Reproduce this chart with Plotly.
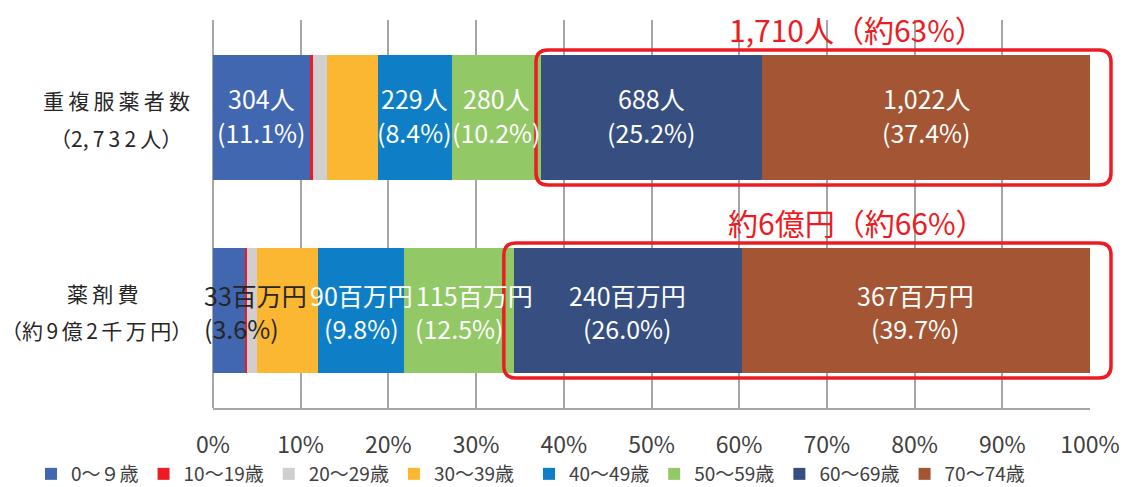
import plotly.graph_objects as go

# ---------------- data ----------------
categories = ["重複服薬者数", "薬剤費"]
category_lines = {
    "重複服薬者数": ["重\u2009複\u2009服\u2009薬\u2009者\u2009数", "（2,\u20097\u20093\u20092\u2009人）"],
    "薬剤費": ["薬\u2009剤\u2009費", "（約\u20069\u2006億\u20062\u2006千\u2006万\u2006円）"],
}
age_groups = ["0～９歳", "10～19歳", "20～29歳", "30～39歳",
              "40～49歳", "50～59歳", "60～69歳", "70～74歳"]
people_share = [11.1, 0.3, 1.6, 5.8, 8.4, 10.2, 25.2, 37.4]      # %
people_count = [304, 8, 42, 159, 229, 280, 688, 1022]            # 人
cost_share = [3.6, 0.3, 1.1, 7.0, 9.8, 12.5, 26.0, 39.7]         # %
cost_million_yen = [33, 3, 10, 64, 90, 115, 240, 367]            # 百万円
labelled = [True, False, False, False, True, True, True, True]
highlight_from = 6  # 60～69歳 and 70～74歳
x_ticks = [0, 10, 20, 30, 40, 50, 60, 70, 80, 90, 100]
x_tick_labels = [f"{t}%" for t in x_ticks]

# ---------------- style ----------------
colors = ["#4167B1", "#ED1C24", "#D0CECE", "#FBB632",
          "#0E7FC6", "#92C865", "#364F80", "#A45533"]
FONT = "Noto Sans CJK JP"
RED = "#ED1C24"
W, H = 1126, 487
ML, MR, MT, MB = 213, 36, 20, 79
PW, PH = W - ML - MR, H - MT - MB
YR = (-0.505, 1.505)
PX_Y = PH / (YR[1] - YR[0])
first_line_xshift = {("薬剤費", 5): 15}

fig = go.Figure()
for i, g in enumerate(age_groups):
    fig.add_trace(go.Bar(
        name=g, orientation="h",
        y=categories, x=[people_share[i], cost_share[i]],
        marker=dict(color=colors[i], line=dict(width=0)),
        width=0.648, hoverinfo="skip",
        legend="legend" if i < 4 else "legend2",
    ))

annotations = []
series = {
    "重複服薬者数": (people_share, [f"{v:,}人" for v in people_count], (19.5, -14.5)),
    "薬剤費": (cost_share, [f"{v:,}百万円" for v in cost_million_yen], (15.5, -17.5)),
}
for cat, (shares, firsts, (s1, s2)) in series.items():
    cum = 0.0
    for i, sh in enumerate(shares):
        mid = cum + sh / 2
        cum += sh
        if not labelled[i]:
            continue
        small = sh < 5
        col = "#262626" if small else "white"
        anchor = "left" if small else "center"
        xs = -27 if small else 0
        for k, (txt, ys) in enumerate(((firsts[i], s1), (f"({sh:.1f}%)", s2))):
            extra = first_line_xshift.get((cat, i), 0) if k == 0 else 0
            annotations.append(dict(
                x=mid, y=cat, xref="x", yref="y", text=txt, showarrow=False,
                xanchor=anchor, yanchor="middle", xshift=xs + extra, yshift=ys,
                font=dict(family=FONT, size=25, color=col)))

# category labels
cat_shift = {"重複服薬者数": (17.5, -20.5), "薬剤費": (17.5, -19.5)}
cat_x = {"重複服薬者数": (116, 116), "薬剤費": (103, 96)}
for cat, lines in category_lines.items():
    for txt, ys, cx in zip(lines, cat_shift[cat], cat_x[cat]):
        annotations.append(dict(
            x=(cx - ML) / PW, y=cat, xref="paper", yref="y", text=txt,
            showarrow=False, xanchor="center", yanchor="middle", yshift=ys,
            font=dict(family=FONT, size=21, color="#262626")))

# highlight boxes and texts
shapes = []
box_pad_left = {"重複服薬者数": 5, "薬剤費": 10}
highlight_text = {
    "重複服薬者数": f"{sum(people_count[highlight_from:]):,}人（約{round(sum(people_share[highlight_from:]))}%）",
    "薬剤費": f"約{round(sum(cost_million_yen[highlight_from:]) / 100)}億円（約{round(sum(cost_share[highlight_from:]))}%）",
}
for cat, shares in (("重複服薬者数", people_share), ("薬剤費", cost_share)):
    yi = categories[::-1].index(cat)
    start = sum(shares[:highlight_from])
    x0 = start / 100 - box_pad_left[cat] / PW
    x1 = 1.0 + 21 / PW
    y0 = yi - 67.5 / PX_Y
    y1 = yi + 67.5 / PX_Y
    rx, ry = 12 / PW, 12 / PX_Y
    path = (f"M{x0+rx},{y1} L{x1-rx},{y1} Q{x1},{y1} {x1},{y1-ry} "
            f"L{x1},{y0+ry} Q{x1},{y0} {x1-rx},{y0} L{x0+rx},{y0} "
            f"Q{x0},{y0} {x0},{y0+ry} L{x0},{y1-ry} Q{x0},{y1} {x0+rx},{y1} Z")
    shapes.append(dict(type="path", path=path, xref="paper", yref="y",
                       line=dict(color=RED, width=3.5), layer="above"))
    annotations.append(dict(
        x=(857 - ML) / PW, y=yi + 88.5 / PX_Y, xref="paper", yref="y",
        text=highlight_text[cat], showarrow=False, xanchor="center", yanchor="middle",
        font=dict(family=FONT, size=30, color=RED)))

legend_y = -(474 - (MT + PH)) / PH
legend_common = dict(orientation="h", xanchor="left", y=legend_y, yanchor="middle",
                     font=dict(family=FONT, size=19, color="#404040"),
                     traceorder="normal", bgcolor="rgba(0,0,0,0)",
                     itemwidth=30)

fig.update_layout(
    barmode="stack",
    width=W, height=H,
    margin=dict(l=ML, r=MR, t=MT, b=MB, pad=0, autoexpand=False),
    paper_bgcolor="white", plot_bgcolor="white",
    font=dict(family=FONT, color="#404040"),
    annotations=annotations, shapes=shapes,
    showlegend=True,
    legend=dict(x=(31 - ML) / PW, **legend_common),
    legend2=dict(x=(529 - ML) / PW, **legend_common),
    xaxis=dict(range=[0, 100], tickvals=x_ticks, ticktext=x_tick_labels,
               showgrid=True, gridcolor="#A6A6A6", gridwidth=1.5,
               zeroline=True, zerolinecolor="#A6A6A6", zerolinewidth=1.5,
               showline=True, linecolor="#A6A6A6", linewidth=1.5,
               ticks="", ticklabelstandoff=16,
               tickfont=dict(family=FONT, size=23, color="#404040"),
               fixedrange=True),
    yaxis=dict(type="category", categoryorder="array",
               categoryarray=categories[::-1], range=list(YR),
               showticklabels=False, showgrid=False, zeroline=False,
               showline=False, ticks="", fixedrange=True),
)

fig.write_html("out.html", config={"displayModeBar": False})
